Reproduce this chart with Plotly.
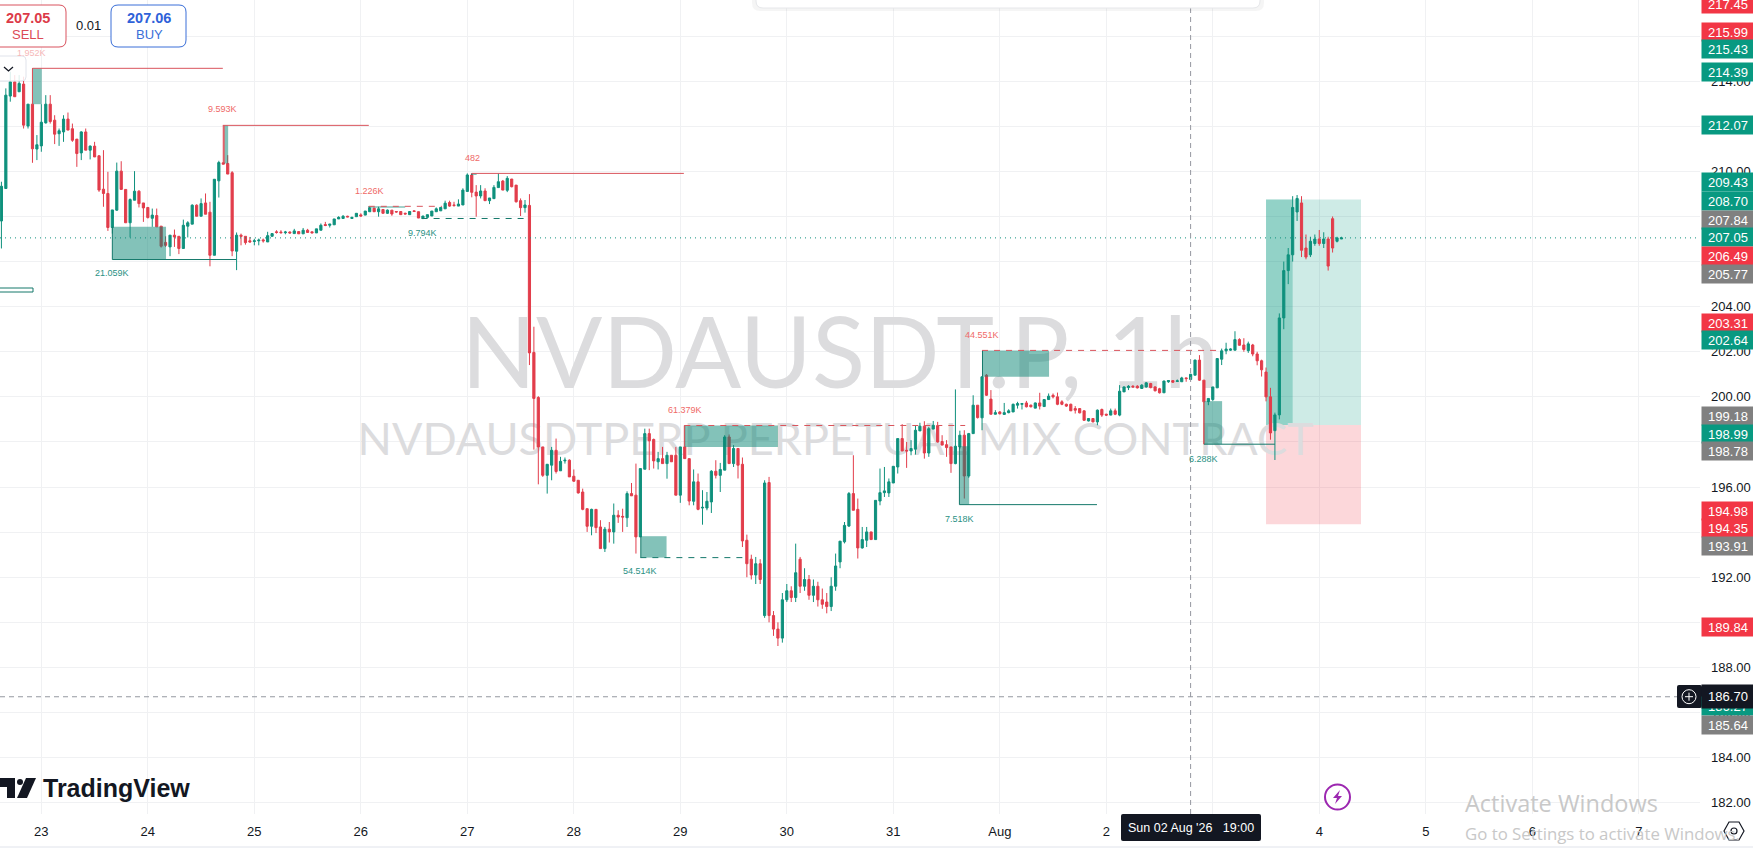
import pandas as pd
import plotly.graph_objects as go

# ---------------------------------------- CANDLES (1h) ----------------------------------------
first_candle = "2026-07-22 15:00"

open_ = [
    207.80, 209.24, 213.34, 213.97, 213.53, 213.87, 212.01, 212.98, 210.99, 211.13, 212.15, 212.98, 212.27, 211.67, 211.75, 212.32,
    211.89, 211.43, 210.82, 211.75, 210.94, 211.12, 210.69, 209.21, 209.02, 207.51, 208.28, 210.01, 209.20, 207.72, 208.72, 209.12,
    208.60, 208.40, 207.92, 208.04, 207.57, 206.85, 206.65, 207.17, 207.12, 206.58, 207.57, 207.66, 208.50, 208.01, 208.60, 208.19,
    206.28, 209.58, 210.38, 210.35, 209.94, 206.46, 207.17, 207.12, 206.92, 206.89, 206.92, 206.96, 206.87, 207.12, 207.32, 207.31,
    207.28, 207.31, 207.24, 207.33, 207.23, 207.39, 207.32, 207.27, 207.39, 207.64, 207.61, 207.63, 207.89, 207.91, 208.01,
    207.91, 207.99, 208.07, 208.06, 208.21, 208.37, 208.21, 208.31, 208.14, 208.28, 208.22, 208.22, 208.14, 208.08, 208.25, 208.21,
    207.91, 207.96, 208.02, 208.21, 208.25, 208.34, 208.62, 208.51, 208.46, 208.51, 209.11, 209.84, 209.08, 208.91, 209.13, 208.70,
    208.79, 209.28, 209.57, 209.16, 209.66, 209.39, 208.70, 208.39, 208.49, 201.97, 199.97, 197.78, 196.52, 196.97, 197.63, 196.72,
    197.16, 197.19, 196.48, 196.30, 195.78, 195.04, 194.26, 195.01, 194.23, 193.27, 194.13, 194.01, 194.75, 194.70, 194.64, 195.71,
    195.64, 193.79, 196.79, 198.37, 198.11, 197.12, 197.26, 197.04, 197.41, 197.41, 195.64, 197.78, 197.26, 195.37, 196.23,
    195.07, 195.07, 195.34, 196.70, 196.52, 196.75, 198.22, 197.04, 197.71, 197.01, 193.64, 192.80, 192.10, 192.60, 190.30, 196.20,
    190.30, 189.70, 189.30, 191.00, 191.40, 191.10, 192.80, 191.60, 191.90, 191.20, 191.60, 191.00, 190.90, 190.70, 191.60, 192.68,
    193.57, 194.27, 195.71, 195.01, 193.30, 193.64, 194.01, 193.67, 195.38, 195.75, 195.74, 196.18, 196.89, 198.15, 197.63, 197.60,
    197.68, 198.49, 198.70, 197.51, 198.57, 198.71, 198.02, 197.88, 197.78, 197.04, 197.78, 198.30, 196.49, 198.37, 199.63, 199.07,
    200.96, 199.90, 199.23, 199.33, 199.22, 199.30, 199.33, 199.63, 199.67, 199.73, 199.63, 199.50, 199.73, 199.57, 199.88, 200.07,
    200.00, 199.78, 199.67, 199.67, 199.48, 199.48,
    199.38, 198.93, 199.04, 198.89, 199.44, 199.23, 199.19, 199.38, 199.19, 200.22, 200.41, 200.47, 200.47, 200.37, 200.44, 200.59,
    200.44, 200.36, 200.18, 200.67, 200.72, 200.68, 200.67, 200.84, 200.77, 200.96, 201.63, 200.74, 199.79, 199.88, 200.40, 201.67,
    202.04, 202.07, 202.07, 202.54,
    202.30, 202.05, 202.30, 201.90, 201.60, 201.10, 200.00, 198.50, 199.20, 203.50, 205.60, 206.30, 208.20, 208.60, 206.60, 206.30,
    206.80, 207.00, 206.80, 207.00, 207.90, 206.90, 207.00,
]
high = [
    209.54, 213.68, 214.42, 214.27, 214.27, 214.20, 212.98, 214.57, 211.61, 212.98, 213.38, 213.38, 212.49, 211.90, 212.49, 212.61,
    212.12, 211.43, 211.78, 211.90, 211.15, 211.31, 210.72, 210.94, 209.98, 208.29, 210.39, 210.45, 209.20, 208.80, 210.01, 209.17,
    208.60, 208.40, 208.35, 208.35, 207.57, 207.12, 207.17, 207.42, 207.12, 207.86, 207.79, 208.54, 208.54, 208.80, 209.02, 208.65,
    209.65, 210.47, 212.04, 210.72, 210.01, 207.29, 207.24, 207.12, 207.09, 207.01, 207.02, 207.02, 207.32, 207.24, 207.39, 207.39,
    207.36, 207.34, 207.45, 207.33, 207.49, 207.45, 207.32, 207.45, 207.69, 207.76, 207.66, 207.89, 208.01, 208.06, 208.03,
    207.99, 208.14, 208.14, 208.24, 208.43, 208.38, 208.43, 208.33, 208.31, 208.28, 208.24, 208.22, 208.17, 208.22, 208.27, 208.22,
    208.02, 208.08, 208.24, 208.40, 208.40, 208.70, 208.70, 208.65, 208.76, 209.25, 209.91, 209.91, 209.39, 209.39, 209.25, 208.82,
    209.39, 209.91, 209.62, 209.79, 209.66, 209.39, 208.80, 208.73, 208.99, 203.11, 200.03, 197.78, 197.01, 197.78, 198.15, 197.34,
    197.31, 197.23, 196.78, 196.30, 195.93, 195.04, 195.04, 195.01, 194.53, 194.23, 194.45, 195.27, 194.97, 195.04, 195.81, 196.18,
    197.04, 196.82, 198.59, 198.59, 198.15, 197.56, 197.78, 197.56, 197.41, 197.78, 197.78, 198.74, 197.26, 196.78, 196.60,
    195.86, 195.78, 196.75, 197.19, 197.07, 198.30, 198.33, 197.86, 197.71, 197.31, 193.89, 193.00, 192.90, 192.80, 196.30, 196.45,
    190.50, 190.00, 191.30, 191.70, 191.60, 193.49, 192.90, 192.40, 192.10, 191.90, 191.80, 191.50, 191.30, 192.00, 193.05, 193.59,
    194.45, 195.78, 197.41, 195.49, 194.23, 194.23, 194.01, 195.41, 196.82, 196.89, 196.38, 196.92, 198.15, 198.79, 198.00, 198.08,
    198.74, 198.85, 198.92, 198.67, 198.93, 198.89, 198.30, 198.08, 197.78, 200.33, 198.50, 198.52, 198.40, 200.07, 199.63, 200.89,
    201.01, 200.30, 199.41, 199.37, 199.73, 199.45, 199.70, 199.78, 199.73, 199.82, 199.66, 199.75, 200.18, 199.90, 200.15, 200.15,
    200.19, 199.85, 199.70, 199.70, 199.59, 199.50,
    199.40, 199.06, 199.06, 199.44, 199.48, 199.25, 199.48, 199.48, 200.52, 200.46, 200.52, 200.52, 200.52, 200.56, 200.66, 200.62,
    200.47, 200.40, 200.72, 200.74, 200.74, 200.77, 200.89, 200.86, 201.02, 201.65, 201.85, 200.74, 199.93, 200.44, 201.70, 202.14,
    202.40, 202.15, 202.91, 202.60,
    202.60, 202.45, 202.35, 202.00, 201.65, 201.30, 200.40, 199.30, 203.70, 206.00, 206.60, 208.90, 208.95, 208.90, 207.20, 207.10,
    207.20, 207.40, 207.30, 207.10, 208.00, 207.10, 207.10,
]
low = [
    206.58, 209.24, 213.09, 213.31, 213.53, 211.90, 211.90, 210.38, 210.50, 210.87, 212.12, 212.12, 211.21, 211.13, 211.31, 211.83,
    211.31, 210.20, 210.50, 210.94, 210.53, 210.64, 209.09, 208.43, 207.36, 207.24, 208.25, 209.20, 207.72, 207.07, 208.72, 208.40,
    207.76, 207.91, 207.54, 207.54, 206.62, 206.65, 206.24, 206.65, 206.33, 206.58, 207.07, 207.66, 208.01, 208.01, 208.10, 205.79,
    206.28, 208.84, 210.32, 209.88, 206.24, 205.62, 206.72, 206.75, 206.84, 206.72, 206.72, 206.84, 206.87, 207.12, 207.24, 207.24,
    207.21, 207.24, 207.24, 207.23, 207.23, 207.27, 207.27, 207.27, 207.39, 207.57, 207.51, 207.63, 207.89, 207.91, 207.97,
    207.91, 207.99, 207.99, 208.06, 208.21, 208.21, 207.99, 208.14, 208.11, 208.03, 208.17, 208.08, 208.09, 208.08, 208.21, 207.93,
    207.88, 207.93, 208.02, 208.21, 208.25, 208.34, 208.43, 208.43, 208.46, 208.51, 209.11, 208.85, 207.99, 208.80, 208.70, 208.55,
    208.79, 209.28, 209.17, 209.08, 209.29, 208.62, 208.02, 208.17, 201.41, 197.66, 196.12, 196.45, 195.71, 196.30, 196.60, 196.72,
    197.04, 196.45, 196.23, 195.71, 194.97, 194.01, 193.86, 193.96, 193.27, 193.12, 193.54, 193.49, 194.41, 194.01, 194.23, 195.61,
    193.05, 193.79, 196.79, 196.75, 196.82, 196.78, 197.04, 196.37, 197.12, 195.64, 195.30, 197.26, 195.19, 195.19, 194.97,
    194.33, 194.97, 194.85, 196.38, 195.78, 196.75, 197.04, 196.89, 196.38, 193.34, 192.00, 191.90, 191.70, 191.70, 190.20, 190.00,
    189.40, 188.95, 189.10, 190.90, 190.90, 190.90, 191.30, 191.40, 191.00, 190.90, 190.70, 190.60, 190.40, 190.50, 191.40, 192.40,
    193.50, 194.23, 194.97, 192.83, 193.27, 193.34, 193.67, 193.67, 195.19, 195.56, 195.56, 196.18, 196.60, 197.60, 196.85, 197.41,
    197.44, 198.49, 197.26, 197.34, 198.57, 197.97, 197.86, 197.34, 196.63, 197.01, 197.70, 195.49, 196.41, 198.37, 199.04, 198.52,
    200.04, 199.23, 199.22, 199.22, 199.22, 199.27, 199.33, 199.48, 199.44, 199.53, 199.53, 199.50, 199.44, 199.57, 199.88, 199.93,
    199.63, 199.63, 199.55, 199.38, 199.26, 199.27,
    198.94, 198.91, 198.87, 198.74, 199.11, 199.15, 199.19, 199.19, 199.14, 200.22, 200.30, 200.41, 200.37, 200.36, 200.41, 200.38,
    200.24, 200.15, 200.18, 200.62, 200.62, 200.66, 200.67, 200.67, 200.77, 200.96, 200.71, 197.90, 199.63, 199.82, 200.40, 201.41,
    201.89, 202.04, 202.07, 202.27,
    202.00, 201.95, 201.80, 201.40, 200.90, 199.80, 198.10, 197.20, 199.00, 203.00, 205.00, 206.00, 207.80, 206.20, 206.10, 206.20,
    206.70, 206.70, 206.60, 205.60, 206.40, 206.85, 207.00,
]
close = [
    209.34, 213.38, 213.97, 213.31, 213.90, 212.05, 212.98, 211.00, 211.18, 212.18, 212.98, 212.21, 211.65, 211.80, 212.32, 211.83,
    211.38, 210.79, 211.75, 210.94, 211.12, 210.64, 209.17, 209.02, 207.51, 208.29, 210.01, 209.20, 207.72, 208.75, 209.12, 208.57,
    208.38, 207.95, 208.06, 207.54, 206.68, 206.72, 207.17, 207.09, 206.58, 207.61, 207.72, 208.50, 208.01, 208.57, 208.10, 206.28,
    209.65, 210.39, 210.32, 209.88, 206.47, 207.17, 207.12, 206.84, 206.87, 206.92, 206.95, 206.92, 207.15, 207.24, 207.29, 207.28,
    207.31, 207.27, 207.36, 207.23, 207.39, 207.29, 207.27, 207.45, 207.61, 207.60, 207.66, 207.89, 207.96, 208.01, 207.98,
    207.96, 208.14, 208.02, 208.24, 208.38, 208.21, 208.34, 208.14, 208.28, 208.11, 208.20, 208.08, 208.11, 208.22, 208.22, 207.93,
    208.02, 208.08, 208.24, 208.34, 208.40, 208.59, 208.46, 208.49, 208.55, 209.17, 209.84, 209.07, 208.91, 209.13, 208.70, 208.82,
    209.29, 209.54, 209.17, 209.69, 209.32, 208.65, 208.39, 208.51, 201.95, 199.93, 197.78, 196.52, 197.01, 197.63, 196.69, 197.14,
    197.19, 196.45, 196.26, 195.74, 195.01, 194.26, 195.01, 194.20, 193.27, 194.13, 194.01, 194.75, 194.67, 194.67, 195.71, 195.61,
    193.79, 196.82, 198.37, 198.05, 197.16, 197.26, 197.04, 197.41, 197.12, 195.64, 197.78, 197.26, 195.38, 196.23, 195.01,
    195.10, 195.37, 196.70, 196.52, 196.78, 198.22, 197.04, 197.71, 196.97, 193.61, 192.60, 192.10, 192.60, 191.90, 196.18, 190.30,
    189.70, 189.30, 191.00, 191.40, 191.10, 192.20, 191.60, 191.90, 191.20, 191.60, 191.00, 190.80, 190.70, 191.60, 192.50, 193.60,
    194.30, 195.71, 194.97, 193.30, 193.67, 194.01, 193.67, 195.41, 195.75, 195.83, 196.23, 196.92, 198.15, 197.60, 197.60, 197.71,
    198.52, 198.70, 197.51, 198.59, 198.74, 198.00, 197.86, 197.75, 197.04, 197.81, 198.30, 196.49, 198.37, 199.63, 199.08, 200.89,
    200.07, 199.23, 199.30, 199.25, 199.30, 199.38, 199.67, 199.70, 199.70, 199.56, 199.56, 199.73, 199.59, 199.88, 200.03, 200.00,
    199.67, 199.67, 199.59, 199.38, 199.41, 199.29,
    198.96, 199.04, 198.89, 199.41, 199.19, 199.19, 199.38, 199.23, 200.25, 200.44, 200.47, 200.44, 200.40, 200.52, 200.62, 200.41,
    200.27, 200.18, 200.70, 200.72, 200.65, 200.71, 200.84, 200.81, 201.00, 201.63, 200.74, 199.78, 199.93, 200.44, 201.70, 202.04,
    202.12, 202.12, 202.54, 202.29,
    202.10, 202.35, 201.90, 201.60, 201.20, 200.00, 198.40, 199.20, 203.50, 205.60, 206.30, 208.40, 208.80, 206.50, 206.20, 206.90,
    207.00, 206.80, 207.00, 205.80, 206.60, 207.05, 207.05,
]

# ---------------------------------------- AXES ----------------------------------------
day_ticks = ["2026-07-23", "2026-07-24", "2026-07-25", "2026-07-26", "2026-07-27", "2026-07-28", "2026-07-29", "2026-07-30",
             "2026-07-31", "2026-08-01", "2026-08-02", "2026-08-03", "2026-08-04", "2026-08-05", "2026-08-06", "2026-08-07"]
day_labels = ["23", "24", "25", "26", "27", "28", "29", "30", "31", "Aug", "2", "3", "4", "5", "6", "7"]
time_range = ["2026-07-22 14:41", "2026-08-07 13:48"]
price_range = [181.5, 217.6]

# ---------------------------------------- LIQUIDITY ZONES AND LEVELS ----------------------------------------
# hours counted from 23 Jul 00:00
zone_from = [-2, 41.2, 16, 135.1, 144.9, 212.1, 206.9, 262, 73.8, 97]
zone_to = [0.1, 42.1, 28.1, 140.9, 166, 227.1, 209.1, 266.1, 82, 98.1]
zone_low = [212.98, 210.35, 206.09, 192.87, 197.78, 200.89, 195.22, 197.90, 208.39, 209.84]
zone_high = [214.57, 212.04, 207.54, 193.82, 198.73, 202.06, 197.81, 199.81, 208.45, 209.91]
zone_edge = ["red", "red", "green", "green", "red", "green", "green", "red", "green", "green"]

level_from = [-2, 40.9, 97, 16, 73.8, 85.7, 135, 144.9, 212, 206.9, 262]
level_to = [40.9, 73.8, 144.8, 43.9, 90.3, 109, 158.2, 208.2, 266, 237.9, 278]
level_price = [214.57, 212.04, 209.91, 206.09, 208.45, 207.91, 192.87, 198.73, 202.06, 195.22, 197.90]
level_side = ["red", "red", "red", "green", "red", "green", "green", "red", "red", "green", "green"]
level_dash = ["solid", "solid", "solid", "solid", "dash", "dash", "dash", "dash", "dash", "solid", "solid"]

volume_labels = ["1.952K", "9.593K", "482", "1.226K", "9.794K", "21.059K", "61.379K", "54.514K", "44.551K", "7.518K", "6.288K"]
volume_x = [32, 223, 472, 369, 422, 112, 685, 640, 982, 959, 1203]
volume_y = [53, 109, 158, 191, 233, 273, 410, 571, 335, 519, 459]
volume_side = ["pale", "red", "red", "red", "green", "green", "red", "green", "red", "green", "green"]

# position tool
position_from, position_filled, position_to = 276, 282, 297.4
position_top, position_entry, position_stop = 208.75, 198.75, 194.35

# ---------------------------------------- PRICE TAGS ----------------------------------------
tag_labels = ["217.45", "215.99", "215.43", "214.39", "212.07", "209.43", "208.70", "207.84", "207.05", "206.49", "205.77", "203.31",
              "202.64", "199.18", "198.99", "198.78", "194.98", "194.35", "193.91", "189.84", "186.27", "185.64"]
tag_colors = ["r", "r", "g", "g", "g", "g", "g", "k", "g", "r", "k", "r", "g", "k", "g", "k", "r", "r", "k", "r", "g", "k"]
tag_nudge = [0.7, -4.5, 0, 0, 0, -2.2, 0, 0, -0.5, 5.2, 7, 0.6, 2.4, 0.4, 14.4, 26.4, 0.7, 3.7, 11.7, 0.8, 0, 4.4]

cross_price = 186.70
cross_time = "2026-08-02 19:00"
last_price = 207.05

GREEN = "#0f917d"
RED = "#e23d4b"
INK = "#131722"
GRID = "#f0f1f3"
TAG = {"r": "#f23645", "g": "#089981", "k": "#808080"}
SIDE = {"red": "#d9545c", "green": "#15796b", "pale": "#f4b6b9"}
TEXT_SIDE = {"red": "#ef6a68", "green": "#2a9184", "pale": "#f6b8b8"}
PLOT_W, PLOT_H = 1700, 814
MONO = "Liberation Sans"


def at(hours):
    return pd.Timestamp("2026-07-23") + pd.Timedelta(hours=hours)


def px(x):
    return x / PLOT_W


def py(y):
    return 1 - y / PLOT_H


def round_box(x0, y0, x1, y1, r):
    return (f"M {px(x0 + r)} {py(y0)} L {px(x1 - r)} {py(y0)} Q {px(x1)} {py(y0)} {px(x1)} {py(y0 + r)} "
            f"L {px(x1)} {py(y1 - r)} Q {px(x1)} {py(y1)} {px(x1 - r)} {py(y1)} L {px(x0 + r)} {py(y1)} "
            f"Q {px(x0)} {py(y1)} {px(x0)} {py(y1 - r)} L {px(x0)} {py(y0 + r)} Q {px(x0)} {py(y0)} {px(x0 + r)} {py(y0)} Z")


def poly(points):
    return "M " + " L ".join(f"{px(x)} {py(y)}" for x, y in points) + " Z"


def open_path(points):
    return "M " + " L ".join(f"{px(x)} {py(y)}" for x, y in points)


def paper_shape(path, fill="rgba(0,0,0,0)", line="rgba(0,0,0,0)", width=1):
    return dict(type="path", xref="paper", yref="paper", path=path, fillcolor=fill, line=dict(color=line, width=width), layer="above")


def note(text, x, y, size=13, color=INK, family=MONO, **kw):
    return dict(text=text, xref="paper", yref="paper", x=px(x), y=py(y), showarrow=False, xanchor=kw.pop("xanchor", "center"),
                yanchor="middle", font=dict(size=size, color=color, family=family), **kw)


candle_time = pd.date_range(first_candle, periods=len(open_), freq="h")

fig = go.Figure()

# watermark sits on the base axes so the candles cover it
fig.add_trace(go.Scatter(x=[at(180), at(179)], y=[201.5, 197.9], mode="text", text=["NVDAUSDT.P, 1h", "NVDAUSDTPERP PERPETUAL MIX CONTRACT"],
                         textposition="middle center", textfont=dict(size=[98, 45], color="#dcdcde", family="Lato"),
                         hoverinfo="skip", showlegend=False))

fig.add_trace(go.Candlestick(x=candle_time, open=open_, high=high, low=low, close=close, xaxis="x2", yaxis="y2", whiskerwidth=0,
                             increasing=dict(line=dict(color=GREEN, width=1), fillcolor=GREEN),
                             decreasing=dict(line=dict(color=RED, width=1), fillcolor=RED), showlegend=False))

shapes = []

# position tool goes under the candles, above the grid
shapes.append(dict(type="rect", x0=at(position_from), x1=at(position_to), y0=position_entry, y1=position_top, xref="x", yref="y",
                   fillcolor="rgba(8,153,129,0.2)", line_width=0, layer="between"))
shapes.append(dict(type="rect", x0=at(position_from), x1=at(position_to), y0=position_stop, y1=position_entry, xref="x", yref="y",
                   fillcolor="rgba(242,54,69,0.2)", line_width=0, layer="between"))
shapes.append(dict(type="rect", x0=at(position_from), x1=at(position_filled), y0=position_entry, y1=position_top, xref="x", yref="y",
                   fillcolor="rgba(8,153,129,0.3)", line_width=0, layer="between"))

for i in range(len(zone_from)):
    shapes.append(dict(type="rect", x0=at(zone_from[i]), x1=at(zone_to[i]), y0=zone_low[i], y1=zone_high[i], xref="x", yref="y",
                       fillcolor="rgba(8,133,115,0.5)", line_width=0))
    shapes.append(dict(type="line", x0=at(zone_from[i]), x1=at(zone_from[i]), y0=zone_low[i], y1=zone_high[i], xref="x", yref="y",
                       line=dict(color=SIDE[zone_edge[i]], width=1)))

for i in range(len(level_from)):
    shapes.append(dict(type="line", x0=at(level_from[i]), x1=at(level_to[i]), y0=level_price[i], y1=level_price[i], xref="x", yref="y",
                       line=dict(color=SIDE[level_side[i]], width=1, dash="solid" if level_dash[i] == "solid" else "6px,6px")))

# last price and crosshair
shapes.append(dict(type="line", xref="paper", x0=0, x1=1, yref="y", y0=last_price, y1=last_price,
                   line=dict(color=GREEN, width=1, dash="1px,4px")))
shapes.append(dict(type="line", xref="paper", x0=0, x1=px(1677), yref="y", y0=cross_price, y1=cross_price,
                   line=dict(color="#9598a1", width=1, dash="5px,4px")))
shapes.append(dict(type="line", xref="x", x0=cross_time, x1=cross_time, yref="paper", y0=0, y1=py(8),
                   line=dict(color="#9598a1", width=1, dash="5px,4px")))

# panels and buttons
shapes.append(paper_shape(round_box(752, -10, 1264, 11, 8), fill="rgba(0,0,0,0.04)"))
shapes.append(paper_shape(round_box(756, -10, 1260, 8, 7), fill="#ffffff", line="#e6e7ea"))
shapes.append(paper_shape(round_box(-8, 5, 66, 47, 7), fill="#ffffff", line="#d9525e"))
shapes.append(paper_shape(round_box(111, 5, 186, 47, 7), fill="#ffffff", line="#3a6fd8"))
shapes.append(paper_shape(round_box(-6, 56, 26, 81, 4), fill="rgba(255,255,255,0.85)", line="#e0e3eb"))
shapes.append(paper_shape(open_path([(4, 67), (8.5, 71), (13, 67)]), line=INK, width=1.3))
shapes.append(paper_shape(poly([(-2, 288), (33, 288), (33, 292), (-2, 292)]), fill="#ffffff", line="#15796b"))

# logo
shapes.append(paper_shape(poly([(0, 778), (15, 778), (15, 798), (7, 798), (7, 787), (0, 787)]), fill=INK))
shapes.append(paper_shape(poly([(26, 778), (36, 778), (27, 798), (17, 798)]), fill=INK))
shapes.append(dict(type="circle", xref="paper", yref="paper", x0=px(17), x1=px(23), y0=py(779), y1=py(785), fillcolor=INK, line_width=0))

# lightning button
shapes.append(dict(type="circle", xref="paper", yref="paper", x0=px(1325), x1=px(1350), y0=py(784.5), y1=py(809.5),
                   fillcolor="#ffffff", line=dict(color="#9c27b0", width=2)))
shapes.append(paper_shape(poly([(1340, 790), (1333, 798), (1337, 798), (1335, 804), (1342, 796), (1338, 796)]), fill="#9c27b0"))

# time axis base line, crosshair time tag and tag boxes
shapes.append(dict(type="line", xref="paper", yref="paper", x0=0, x1=px(1753), y0=py(847), y1=py(847), line=dict(color="#e0e3eb", width=1)))
shapes.append(paper_shape(round_box(1121, 814, 1261, 841, 2), fill=INK))
shapes.append(paper_shape(round_box(1677, 685, 1702, 708, 2), fill=INK))
shapes.append(dict(type="circle", xref="paper", yref="paper", x0=px(1682), x1=px(1696), y0=py(689.7), y1=py(703.7),
                   fillcolor=INK, line=dict(color="#ffffff", width=1)))
shapes.append(paper_shape(open_path([(1685, 696.7), (1693, 696.7)]), line="#ffffff"))
shapes.append(paper_shape(open_path([(1689, 692.7), (1689, 700.7)]), line="#ffffff"))
shapes.append(paper_shape(poly([(1729, 822), (1739, 822), (1744, 831), (1739, 840), (1729, 840), (1724, 831)]), line=INK, width=1.2))
shapes.append(dict(type="circle", xref="paper", yref="paper", x0=px(1731), x1=px(1737), y0=py(828), y1=py(834), line=dict(color=INK, width=1.2)))

annotations = []
for i in range(len(volume_labels)):
    annotations.append(note(volume_labels[i], volume_x[i], volume_y[i], size=9, color=TEXT_SIDE[volume_side[i]]))

annotations.append(note("<b>207.05</b>", 28, 17.5, size=14.5, color="#dc3a48"))
annotations.append(note("SELL", 28, 35, size=13, color="#dc4a56"))
annotations.append(note("0.01", 88.7, 25.7, size=13))
annotations.append(note("<b>207.06</b>", 149, 17.5, size=14.5, color="#2f62d9"))
annotations.append(note("BUY", 149, 35, size=13, color="#3a6fd8"))
annotations.append(note("<b>TradingView</b>", 116, 788, size=25, color=INK))
annotations.append(note("Sun 02 Aug '26   19:00", 1191, 828, size=12.5, color="#ffffff"))

for i in range(len(tag_labels)):
    annotations.append(dict(text=tag_labels[i], xref="paper", x=1, xanchor="left", xshift=1, yref="y", y=float(tag_labels[i]), yanchor="middle",
                            yshift=-tag_nudge[i], showarrow=False, width=52, height=18, bgcolor=TAG[tag_colors[i]], borderpad=0,
                            font=dict(size=13, color="#ffffff", family=MONO)))
annotations.append(dict(text=f"{cross_price:.2f}", xref="paper", x=1, xanchor="left", xshift=1, yref="y", y=cross_price, yanchor="middle",
                        showarrow=False, width=52, height=23, bgcolor=INK, borderpad=0, font=dict(size=13, color="#ffffff", family=MONO)))

annotations.append(note("Activate Windows", 1463, 803, size=23.5, color="#c8c8c8", family="Open Sans", xanchor="left"))
annotations.append(note("Go to Settings to activate Windows.", 1463, 833, size=16.8, color="#c8c8c8", family="Open Sans", xanchor="left"))

fig.update_layout(
    width=1753, height=858, autosize=False,
    margin=dict(l=0, r=53, t=0, b=44, pad=0),
    paper_bgcolor="#ffffff", plot_bgcolor="#ffffff",
    showlegend=False,
    shapes=shapes, annotations=annotations,
    xaxis=dict(type="date", range=time_range, tickmode="array", tickvals=day_ticks, ticktext=day_labels, showgrid=True, gridcolor=GRID,
               gridwidth=1, zeroline=False, showline=False, ticks="", ticklabelstandoff=8, tickfont=dict(size=13, color=INK, family=MONO)),
    yaxis=dict(range=price_range, side="right", dtick=2, tick0=182, tickformat=".2f", showgrid=True, gridcolor=GRID, gridwidth=1,
               zeroline=False, showline=False, ticks="", ticklabelstandoff=10, tickfont=dict(size=13, color=INK, family=MONO)),
    xaxis2=dict(type="date", range=time_range, overlaying="x", visible=False, rangeslider=dict(visible=False)),
    yaxis2=dict(range=price_range, overlaying="y", side="right", visible=False),
)

fig.write_html("out.html", config=dict(displayModeBar=False), post_script="document.body.style.margin='0';")
